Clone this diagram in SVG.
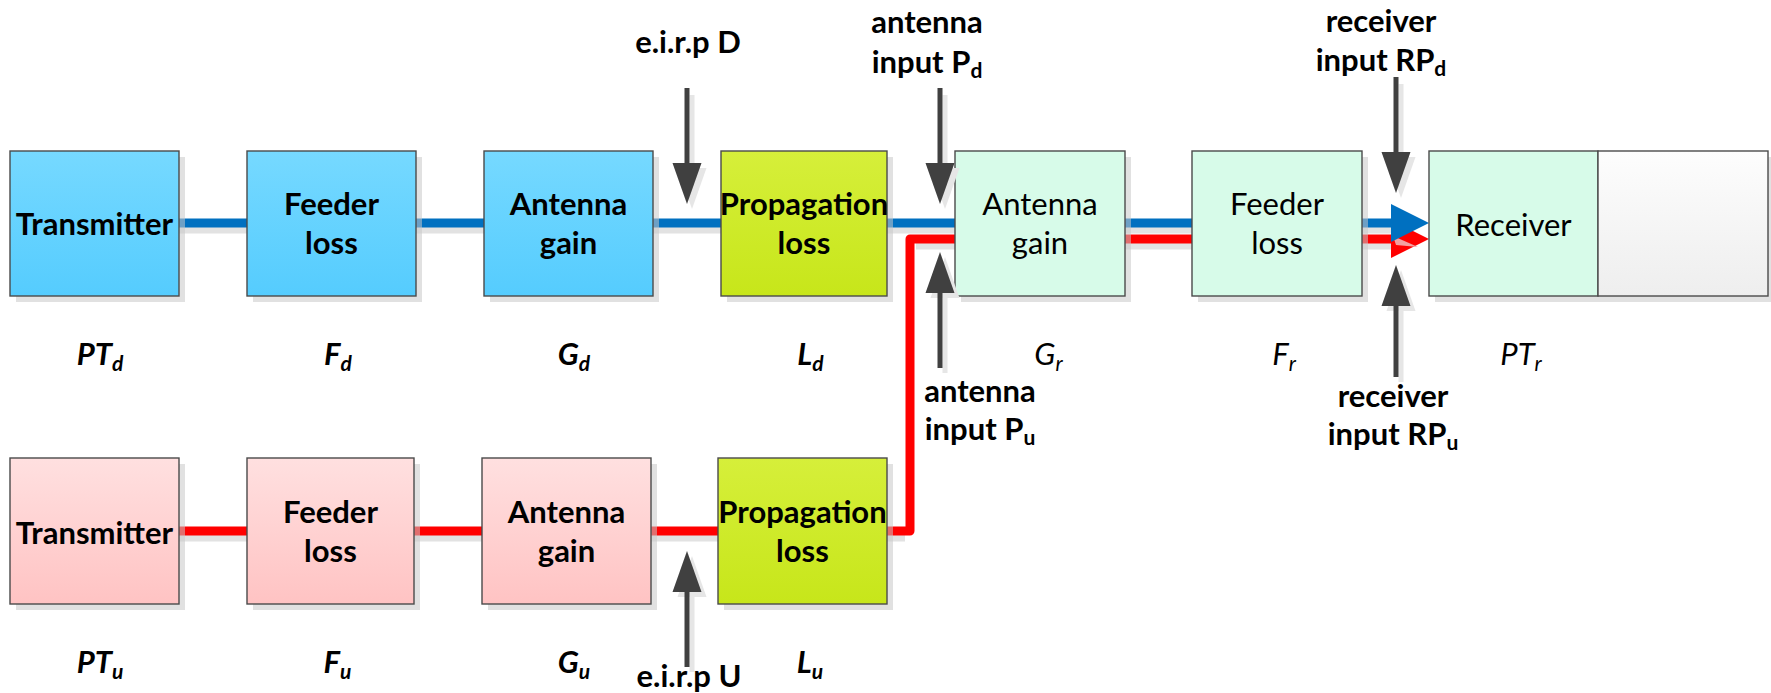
<svg xmlns="http://www.w3.org/2000/svg" xmlns:xlink="http://www.w3.org/1999/xlink" width="1771" height="693" viewBox="0 0 1771 693">
<defs>
  <linearGradient id="gBlue" x1="0" y1="0" x2="0" y2="1"><stop offset="0" stop-color="#76D9FF"/><stop offset="1" stop-color="#55CCFE"/></linearGradient>
  <linearGradient id="gProp" x1="0" y1="0" x2="0" y2="1"><stop offset="0" stop-color="#D6EF3A"/><stop offset="1" stop-color="#C7E61A"/></linearGradient>
  <linearGradient id="gPink" x1="0" y1="0" x2="0" y2="1"><stop offset="0" stop-color="#FFE0E0"/><stop offset="1" stop-color="#FFC3C3"/></linearGradient>
  <linearGradient id="gGray" x1="0" y1="0" x2="0" y2="1"><stop offset="0" stop-color="#FDFDFD"/><stop offset="1" stop-color="#EEEEEE"/></linearGradient>
  <path id="ah" d="M0,0 L-41,-14.5 L-41,14.5 Z"/>
  <style>
    .box{stroke:#4A4A4A;stroke-width:1.4}
    .blue{fill:url(#gBlue)}
    .prop{fill:url(#gProp)}
    .pink{fill:url(#gPink)}
    .mint{fill:#D7FBE9}
    .gray{fill:url(#gGray)}
    .sh{fill:#C8C8C8;opacity:0.55}
    .nb{font-family:Lato,"Open Sans","Liberation Sans",sans-serif;font-weight:bold;font-size:31px;fill:#000;text-anchor:middle}
    .nr{font-family:Lato,"Open Sans","Liberation Sans",sans-serif;font-size:31px;fill:#000;text-anchor:middle}
    .mb{font-family:Lato,"Open Sans","Liberation Sans",sans-serif;font-weight:bold;font-style:italic;font-size:31px;fill:#000;text-anchor:middle}
    .mr{font-family:Lato,"Open Sans","Liberation Sans",sans-serif;font-style:italic;font-size:31px;fill:#000;text-anchor:middle}
    .sub{font-size:21px}
    .lnB{fill:none;stroke:#0070C0;stroke-width:9}
    .lnR{fill:none;stroke:#FF0000;stroke-width:9;stroke-linejoin:round}
    .lnS{fill:none;stroke:#E2E2E2;stroke-width:9}
    .pt{stroke:#404040;stroke-width:5;fill:none}
    .ptS{stroke:#E6E6E6;stroke-width:5;fill:none}
    .ph{fill:#404040}
    .phS{fill:#E6E6E6}
  </style>
</defs>
<rect width="1771" height="693" fill="#FFFFFF"/>

<g id="connectors">
  <path class="lnS" d="M179,229 H1391"/>
  <path class="lnS" d="M179,537 H905"/>
  <path class="lnS" d="M916,245 H1391"/>
  <path class="lnR" d="M179,531 H910 V239 H1395"/>
  <path class="lnB" d="M179,223 H1395"/>
  <polygon fill="#FF0000" points="1391,220 1429,239 1391,258"/>
  <polygon fill="#F3A0A0" points="1393,236 1418,247 1396,245"/>
  <polygon fill="#0070C0" points="1391,204 1429,223 1391,242"/>
</g>

<g id="tx-d">
  <rect class="sh" x="16" y="157" width="169" height="145"/>
  <rect class="box blue" x="10" y="151" width="169" height="145"/>
  <text class="nb" x="94.5" y="235">Transmitter</text>
</g>
<g id="feeder-d">
  <rect class="sh" x="253" y="157" width="169" height="145"/>
  <rect class="box blue" x="247" y="151" width="169" height="145"/>
  <text class="nb" x="331.5" y="215">Feeder</text>
  <text class="nb" x="331.5" y="254">loss</text>
</g>
<g id="antenna-d">
  <rect class="sh" x="490" y="157" width="169" height="145"/>
  <rect class="box blue" x="484" y="151" width="169" height="145"/>
  <text class="nb" x="568.5" y="215">Antenna</text>
  <text class="nb" x="568.5" y="254">gain</text>
</g>
<g id="prop-d">
  <rect class="sh" x="727" y="157" width="166" height="145"/>
  <rect class="box prop" x="721" y="151" width="166" height="145"/>
  <text class="nb" x="804" y="215">Propagation</text>
  <text class="nb" x="804" y="254">loss</text>
</g>
<g id="antenna-r">
  <rect class="sh" x="961" y="157" width="170" height="145"/>
  <rect class="box mint" x="955" y="151" width="170" height="145"/>
  <text class="nr" x="1040" y="215">Antenna</text>
  <text class="nr" x="1040" y="254">gain</text>
</g>
<g id="feeder-r">
  <rect class="sh" x="1198" y="157" width="170" height="145"/>
  <rect class="box mint" x="1192" y="151" width="170" height="145"/>
  <text class="nr" x="1277" y="215">Feeder</text>
  <text class="nr" x="1277" y="254">loss</text>
</g>
<g id="receiver">
  <rect class="sh" x="1435" y="157" width="336" height="145"/>
  <rect class="box mint" x="1429" y="151" width="169" height="145"/>
  <rect class="box gray" x="1598" y="151" width="170" height="145"/>
  <text class="nr" x="1513.5" y="236">Receiver</text>
</g>

<g id="tx-u">
  <rect class="sh" x="16" y="464" width="169" height="146"/>
  <rect class="box pink" x="10" y="458" width="169" height="146"/>
  <text class="nb" x="94.5" y="544">Transmitter</text>
</g>
<g id="feeder-u">
  <rect class="sh" x="253" y="464" width="167" height="146"/>
  <rect class="box pink" x="247" y="458" width="167" height="146"/>
  <text class="nb" x="330.5" y="523">Feeder</text>
  <text class="nb" x="330.5" y="562">loss</text>
</g>
<g id="antenna-u">
  <rect class="sh" x="488" y="464" width="169" height="146"/>
  <rect class="box pink" x="482" y="458" width="169" height="146"/>
  <text class="nb" x="566.5" y="523">Antenna</text>
  <text class="nb" x="566.5" y="562">gain</text>
</g>
<g id="prop-u">
  <rect class="sh" x="724" y="464" width="169" height="146"/>
  <rect class="box prop" x="718" y="458" width="169" height="146"/>
  <text class="nb" x="802.5" y="523">Propagation</text>
  <text class="nb" x="802.5" y="562">loss</text>
</g>

<g id="pointers">
  <path class="ptS" d="M692,95 V170 M945,95 V170 M1401,84 V158 M945,298 V373 M1401,310 V382 M692,597 V672"/>
  <use xlink:href="#ah" class="phS" transform="translate(692,209) rotate(90)"/>
  <use xlink:href="#ah" class="phS" transform="translate(945,209) rotate(90)"/>
  <use xlink:href="#ah" class="phS" transform="translate(1401,198) rotate(90)"/>
  <use xlink:href="#ah" class="phS" transform="translate(945,257) rotate(-90)"/>
  <use xlink:href="#ah" class="phS" transform="translate(1401,270) rotate(-90)"/>
  <use xlink:href="#ah" class="phS" transform="translate(692,556) rotate(-90)"/>
  <path class="pt" d="M687,88 V165 M940,88 V165 M1396,77 V154 M940,290 V368 M1396,303 V377 M687,590 V667"/>
  <use xlink:href="#ah" class="ph" transform="translate(687,204) rotate(90)"/>
  <use xlink:href="#ah" class="ph" transform="translate(940,204) rotate(90)"/>
  <use xlink:href="#ah" class="ph" transform="translate(1396,193) rotate(90)"/>
  <use xlink:href="#ah" class="ph" transform="translate(940,252) rotate(-90)"/>
  <use xlink:href="#ah" class="ph" transform="translate(1396,265) rotate(-90)"/>
  <use xlink:href="#ah" class="ph" transform="translate(687,551) rotate(-90)"/>
</g>

<g id="labels">
  <text class="nb" x="688" y="53">e.i.r.p D</text>
  <text class="nb" x="927" y="33">antenna</text>
  <text class="nb" x="927" y="73">input P<tspan class="sub" dy="5">d</tspan></text>
  <text class="nb" x="1381" y="32">receiver</text>
  <text class="nb" x="1381" y="71">input RP<tspan class="sub" dy="5">d</tspan></text>
  <text class="nb" x="980" y="402">antenna</text>
  <text class="nb" x="980" y="440">input P<tspan class="sub" dy="5">u</tspan></text>
  <text class="nb" x="1393" y="407">receiver</text>
  <text class="nb" x="1393" y="445">input RP<tspan class="sub" dy="5">u</tspan></text>
  <text class="nb" x="689" y="687">e.i.r.p U</text>

  <text class="mb" x="100" y="365">PT<tspan class="sub" dy="6">d</tspan></text>
  <text class="mb" x="338" y="365">F<tspan class="sub" dy="6">d</tspan></text>
  <text class="mb" x="574" y="365">G<tspan class="sub" dy="6">d</tspan></text>
  <text class="mb" x="810.5" y="365">L<tspan class="sub" dy="6">d</tspan></text>
  <text class="mr" x="1048.5" y="365">G<tspan class="sub" dy="6">r</tspan></text>
  <text class="mr" x="1284" y="365">F<tspan class="sub" dy="6">r</tspan></text>
  <text class="mr" x="1521" y="365">PT<tspan class="sub" dy="6">r</tspan></text>

  <text class="mb" x="100" y="673">PT<tspan class="sub" dy="6">u</tspan></text>
  <text class="mb" x="337.5" y="673">F<tspan class="sub" dy="6">u</tspan></text>
  <text class="mb" x="574" y="673">G<tspan class="sub" dy="6">u</tspan></text>
  <text class="mb" x="810" y="673">L<tspan class="sub" dy="6">u</tspan></text>
</g>
</svg>
